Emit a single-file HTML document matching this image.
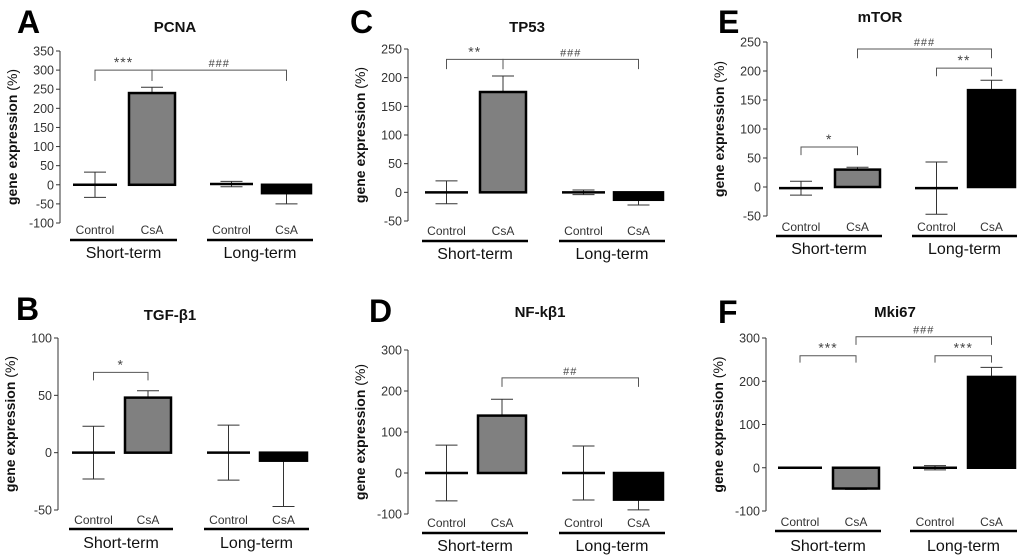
<!DOCTYPE html>
<html><head><meta charset="utf-8"><style>
html,body{margin:0;padding:0;background:#fff;width:1024px;height:558px;overflow:hidden}
svg text{font-family:"Liberation Sans",Arial,sans-serif}
</style></head><body>
<svg id="fig" width="1024" height="558" viewBox="0 0 1024 558" xmlns="http://www.w3.org/2000/svg"></svg>
<script>
// ---- data ----
const panelLetters = ["A","B","C","D","E","F"];
const panelTitles = ["PCNA","TGF-β1","TP53","NF-kβ1","mTOR","Mki67"];
const categories = ["Control","CsA","Control","CsA"];
const groups = ["Short-term","Long-term"];
// mean values per panel (ST control, ST CsA, LT control, LT CsA)
const meansA = [0, 240, 2, -22];
const meansB = [0, 48, 0, -7];
const meansC = [0, 175, 0, -13];
const meansD = [0, 140, 0, -65];
const meansE = [-2, 30, -2, 167];
const meansF = [0, -48, 0, 210];
// error magnitudes
const errA = [33, 15, 7, 28];
const errB = [23, 6, 24, 40];
const errC = [20, 28, 4, 9];
const errD = [68, 40, 66, 25];
const errE = [12, 4, 45, 17];
const errF = [1, 2, 5, 22];
// axis ranges and ticks
const yMinA=-100, yMaxA=350, tickStepA=50;
const yMinB=-50, yMaxB=100, tickStepB=50;
const yMinC=-50, yMaxC=250, tickStepC=50;
const yMinD=-100, yMaxD=300, tickStepD=100;
const yMinE=-50, yMaxE=250, tickStepE=50;
const yMinF=-100, yMaxF=300, tickStepF=100;
// significance brackets: [from, to, level, endLevel, label]
const bracketsA = [[0,1,300,272,"***"],[1,3,300,272,"###"]];
const bracketsB = [[0,1,70,63,"*"]];
const bracketsC = [[0,1,232,215,"**"],[1,3,232,215,"###"]];
const bracketsD = [[1,3,232,210,"##"]];
const bracketsE = [[1,3,238,222,"###"],[2,3,205,191,"**"],[0,1,69,55,"*"]];
const bracketsF = [[1,3,303,284,"###"],[0,1,259,243,"***"],[2,3,259,243,"***"]];

// ---- layout (pixel geometry) ----
const layouts = [
 {ax:60, yTop:51, yBot:223, bars:[[73,117],[129,175],[210,253],[262,311]], lab:230, ul:240, grp:253, lx:17, ly:33, tx:175, ty:32},
 {ax:58, yTop:338, yBot:510, bars:[[72,115],[125,171],[207,250],[260,307]], lab:520, ul:529, grp:543, lx:16, ly:320, tx:170, ty:320},
 {ax:408, yTop:49, yBot:221, bars:[[425,468],[480,526],[562,605],[614,663]], lab:231, ul:241, grp:254, lx:350, ly:33, tx:527, ty:32},
 {ax:408, yTop:350, yBot:514, bars:[[425,468],[478,526],[562,605],[614,663]], lab:523, ul:533, grp:546, lx:369, ly:322, tx:540, ty:317},
 {ax:767, yTop:42, yBot:216, bars:[[779,823],[835,880],[915,958],[968,1015]], lab:227, ul:236, grp:249, lx:718, ly:33, tx:880, ty:22},
 {ax:766, yTop:338, yBot:511, bars:[[778,822],[833,879],[913,957],[968,1015]], lab:522, ul:531, grp:546, lx:718, ly:323, tx:895, ty:317}
];
const allMeans=[meansA,meansB,meansC,meansD,meansE,meansF];
const allErr=[errA,errB,errC,errD,errE,errF];
const allMin=[yMinA,yMinB,yMinC,yMinD,yMinE,yMinF];
const allMax=[yMaxA,yMaxB,yMaxC,yMaxD,yMaxE,yMaxF];
const allStep=[tickStepA,tickStepB,tickStepC,tickStepD,tickStepE,tickStepF];
const allBr=[bracketsA,bracketsB,bracketsC,bracketsD,bracketsE,bracketsF];

const NS="http://www.w3.org/2000/svg";
const svg=document.getElementById('fig');
function mk(tag,attrs,parent,txt){const e=document.createElementNS(NS,tag);for(const k in attrs)e.setAttribute(k,attrs[k]);if(txt!==undefined)e.textContent=txt;parent.appendChild(e);return e;}

for(let p=0;p<6;p++){
  const L=layouts[p], mn=allMin[p], mx=allMax[p];
  const y=v=>L.yBot-(v-mn)/(mx-mn)*(L.yBot-L.yTop);
  const g=mk('g',{},svg);
  
  
  const lt=mk('text',{x:L.lx,y:L.ly,'font-size':32,'font-weight':'bold',fill:'#000'},g,panelLetters[p]);
  
  
  const tt=mk('text',{x:L.tx,y:L.ty,'font-size':15,'font-weight':'bold','text-anchor':'middle',fill:'#111'},g,panelTitles[p]);
  
  
  const axl=mk('line',{x1:L.ax,y1:L.yTop,x2:L.ax,y2:L.yBot,stroke:'#333','stroke-width':1},g);
  
  
  for(let v=mn;v<=mx+1e-9;v+=allStep[p]){
    mk('line',{x1:L.ax-4,y1:y(v),x2:L.ax,y2:y(v),stroke:'#333','stroke-width':1},g);
    const tl=mk('text',{x:L.ax-6,y:y(v)+4.5,'font-size':12.5,'text-anchor':'end',fill:'#333'},g,String(v));
    
    
  }
  const ym=(L.yTop+L.yBot)/2, yx=L.ax-43;
  const yt=mk('text',{x:yx,y:ym,'font-size':14,'font-weight':'bold','text-anchor':'middle',fill:'#111',transform:`rotate(-90 ${yx} ${ym})`},g);
  
  
  mk('tspan',{},yt,'gene expression ');
  mk('tspan',{'font-weight':'normal'},yt,'(%)');
  for(let i=0;i<4;i++){
    const [x0,x1]=L.bars[i], cx=(x0+x1)/2, m=allMeans[p][i], e=allErr[p][i];
    const y0=y(0), ym2=y(m);
    if(i===0||i===2){
      mk('line',{x1:cx,y1:y(m-e),x2:cx,y2:y(m+e),stroke:'#333','stroke-width':1},g);
      mk('line',{x1:cx-11,y1:y(m+e),x2:cx+11,y2:y(m+e),stroke:'#333','stroke-width':1},g);
      mk('line',{x1:cx-11,y1:y(m-e),x2:cx+11,y2:y(m-e),stroke:'#333','stroke-width':1},g);
      const bl=mk('line',{x1:x0,y1:ym2,x2:x1,y2:ym2,stroke:'#000','stroke-width':2.5},g);
      
      
    } else {
      const ey=m>=0?y(m+e):y(m-e);
      mk('line',{x1:cx,y1:ym2,x2:cx,y2:ey,stroke:'#333','stroke-width':1},g);
      mk('line',{x1:cx-11,y1:ey,x2:cx+11,y2:ey,stroke:'#333','stroke-width':1},g);
      const top=Math.min(y0,ym2), h=Math.max(Math.abs(y0-ym2),1);
      const r=mk('rect',{x:x0,y:top,width:x1-x0,height:h,fill:i===1?'#808080':'#000',stroke:'#000','stroke-width':2.5},g);
      
      
    }
    const cl=mk('text',{x:cx,y:L.lab+4,'font-size':12,'text-anchor':'middle',fill:'#333'},g,categories[i]);
    
    
  }
  for(let k=0;k<2;k++){
    const xa=L.bars[2*k][0]-3, xb=L.bars[2*k+1][1]+2;
    const u=mk('line',{x1:xa,y1:L.ul,x2:xb,y2:L.ul,stroke:'#000','stroke-width':2.5},g);
    
    
    const gl=mk('text',{x:(xa+xb)/2,y:L.grp+5,'font-size':16,'text-anchor':'middle',fill:'#111'},g,groups[k]);
    
    
  }
  for(const b of allBr[p]){
    const xa=(L.bars[b[0]][0]+L.bars[b[0]][1])/2, xb=(L.bars[b[1]][0]+L.bars[b[1]][1])/2;
    const yl=y(b[2]), ye=y(b[3]);
    const pl=mk('polyline',{points:`${xa},${ye} ${xa},${yl} ${xb},${yl} ${xb},${ye}`,fill:'none',stroke:'#555','stroke-width':1},g);
    
    
    const st=mk('text',{x:(xa+xb)/2,y:yl-3,'font-size':b[4][0]==='#'?11:14,'text-anchor':'middle',fill:'#444','letter-spacing':1},g,b[4]);
    
    
  }
}
</script>
</body></html>
